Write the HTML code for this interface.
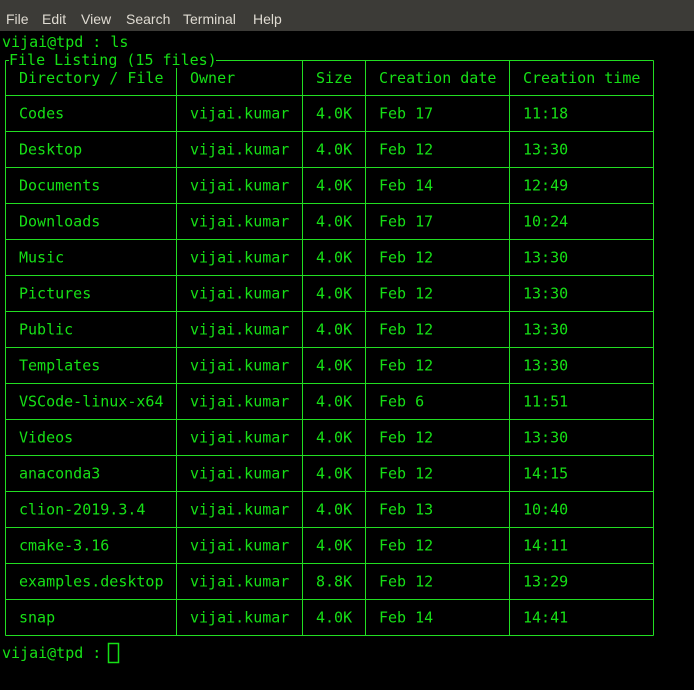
<!DOCTYPE html>
<html><head><meta charset="utf-8"><style>
html,body{margin:0;padding:0;background:#000;width:694px;height:690px;overflow:hidden}
#menubar{position:absolute;left:0;top:0;width:694px;height:31px;background:#3c3b37}
.menu{position:absolute;top:11px;font:14px "Liberation Sans","DejaVu Sans",sans-serif;color:#dfdbd2}
svg{position:absolute;left:0;top:0}
svg text{font-family:"DejaVu Sans Mono","Liberation Mono",monospace;font-size:15px;fill:#16e016;dominant-baseline:central}
</style></head><body>
<div id="menubar">
<span class="menu" style="left:6px">File</span>
<span class="menu" style="left:42px">Edit</span>
<span class="menu" style="left:81px">View</span>
<span class="menu" style="left:126px">Search</span>
<span class="menu" style="left:183px">Terminal</span>
<span class="menu" style="left:253px">Help</span>
</div>
<svg id="term" width="694" height="690">
<text x="2" y="42">vijai@tpd : ls</text>
<text x="9" y="60">File Listing (15 files)</text>
<text x="2" y="653">vijai@tpd :</text>
<rect x="108.5" y="643.5" width="10" height="19" fill="none" stroke="#16e016" stroke-width="1.5"/>
</svg>
<script>
const headers=["Directory / File","Owner","Size","Creation date","Creation time"];
const names=["Codes","Desktop","Documents","Downloads","Music","Pictures","Public","Templates","VSCode-linux-x64","Videos","anaconda3","clion-2019.3.4","cmake-3.16","examples.desktop","snap"];
const owners=["vijai.kumar","vijai.kumar","vijai.kumar","vijai.kumar","vijai.kumar","vijai.kumar","vijai.kumar","vijai.kumar","vijai.kumar","vijai.kumar","vijai.kumar","vijai.kumar","vijai.kumar","vijai.kumar","vijai.kumar"];
const sizes=["4.0K","4.0K","4.0K","4.0K","4.0K","4.0K","4.0K","4.0K","4.0K","4.0K","4.0K","4.0K","4.0K","8.8K","4.0K"];
const dates=["Feb 17","Feb 12","Feb 14","Feb 17","Feb 12","Feb 12","Feb 12","Feb 12","Feb 6","Feb 12","Feb 12","Feb 13","Feb 12","Feb 12","Feb 14"];
const times=["11:18","13:30","12:49","10:24","13:30","13:30","13:30","13:30","11:51","13:30","14:15","10:40","14:11","13:29","14:41"];
const svg=document.getElementById('term');
const NS='http://www.w3.org/2000/svg';
const colX=[5.5,176.5,302.5,365.5,509.5,653.5];
const top0=60.5,headB=95.5,rowH=36;
const bottom=headB+rowH*names.length;
function line(x1,y1,x2,y2,n){const l=document.createElementNS(NS,'line');
l.setAttribute('x1',x1);l.setAttribute('y1',y1);l.setAttribute('x2',x2);l.setAttribute('y2',y2);
l.setAttribute('stroke','#22dd22');l.setAttribute('stroke-width','1');


svg.appendChild(l);}
function txt(x,y,s,n){const t=document.createElementNS(NS,'text');t.setAttribute('x',x);t.setAttribute('y',y);t.textContent=s;


svg.appendChild(t);}
line(5.5,top0,9,top0,'table-border-top-left');
line(216,top0,653.5,top0,'table-border-top');
line(5.5,top0,5.5,bottom,'table-border-left');
for(let i=1;i<colX.length;i++)line(colX[i],i==1?68:top0,colX[i],bottom,'column-divider');
line(5.5,headB,653.5,headB,'header-divider');
for(let r=1;r<=names.length;r++)line(5.5,headB+rowH*r,653.5,headB+rowH*r,'row-divider');
headers.forEach((h,i)=>txt(colX[i]+13.5,78,h,'column-header'));
const cols=[names,owners,sizes,dates,times];
names.forEach((_,r)=>{const cy=headB+rowH*r+rowH/2;
cols.forEach((c,i)=>txt(colX[i]+13.5,cy,c[r],'table-cell'));});
</script>
</body></html>
